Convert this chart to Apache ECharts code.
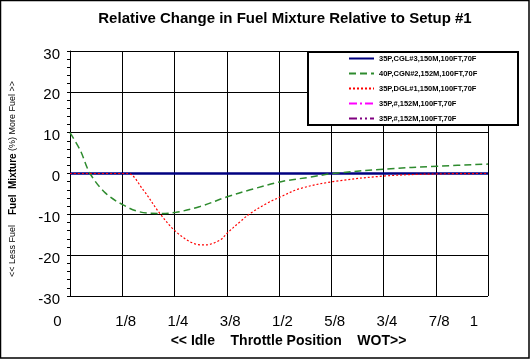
<!DOCTYPE html>
<html>
<head>
<meta charset="utf-8">
<script src="https://cdn.jsdelivr.net/npm/echarts@6/dist/echarts.min.js"></script>
<style>html,body{margin:0;padding:0;background:#fff}#c{width:530px;height:359px}</style>
</head>
<body>
<div id="c"></div>
<script>
// ---- data ----
var xTickLabels = ['0','1/8','1/4','3/8','1/2','5/8','3/4','7/8','1'];
var yTicks = [-30,-20,-10,0,10,20,30];
var seriesNames = ['35P,CGL#3,150M,100FT,70F','40P,CGN#2,152M,100FT,70F','35P,DGL#1,150M,100FT,70F','35P,#,152M,100FT,70F','35P,#,152M,100FT,70F '];
var cgl3X = [0, 1];
var cgl3Y = [0, 0];
var cgn2X = [0, 0.024, 0.048, 0.085, 0.127, 0.167, 0.215, 0.254, 0.311, 0.376, 0.431, 0.505, 0.574, 0.629, 0.756, 0.880, 1.0];
var cgn2Y = [10, 5.8, 0, -4.8, -7.7, -9.4, -9.8, -9.5, -8.1, -5.7, -4.0, -2.0, -0.9, 0, 1.1, 1.8, 2.3];
var dgl1X = [0, 0.125, 0.139, 0.175, 0.215, 0.253, 0.295, 0.323, 0.359, 0.376, 0.407, 0.431, 0.471, 0.504, 0.55, 0.629, 0.754, 0.878, 1.0];
var dgl1Y = [0, 0, 0, -4.0, -9.8, -14.2, -17.1, -17.5, -16.3, -14.6, -11.8, -9.8, -7.3, -5.7, -3.7, -2.0, -0.6, -0.1, 0];
var s4X = [0, 1];
var s4Y = [0, 0];
var s5X = [0, 1];
var s5Y = [0, 0];

function pts(xs, ys){ return xs.map(function(x,i){ return [x, ys[i]]; }); }

var FONT = 'Arial, "Liberation Sans", sans-serif';
var chart = echarts.init(document.getElementById('c'), null, {renderer:'canvas'});
chart.setOption({
  backgroundColor: '#ffffff',
  animation: false,
  title: {
    text: 'Relative Change in Fuel Mixture Relative to Setup #1',
    left: 280, top: 6, textAlign: 'center',
    textStyle: {fontFamily: FONT, fontSize: 15, fontWeight: 'bold', color: '#000'}
  },
  graphic: [
    {type:'rect', z: 0, shape:{x:0.5,y:0.5,width:528.5,height:357.5}, style:{fill:null, stroke:'#000', lineWidth:1.5}, silent:true},
    {type:'rect', z: 100, shape:{x:308,y:52,width:210,height:73}, style:{fill:'#fff', stroke:'#000', lineWidth:2}, silent:true}
  ],
  legend: {
    z: 110,
    orient: 'vertical',
    left: 348, top: 54.5,
    padding: 0,
    itemWidth: 25, itemHeight: 9, itemGap: 7,
    data: seriesNames,
    itemStyle: {opacity: 0},
    textStyle: {fontFamily: FONT, fontSize: 7.5, fontWeight: 'bold', color: '#000'}
  },
  grid: {left: 70, right: 42, top: 51, bottom: 63, containLabel: false},
  xAxis: {
    type: 'value', min: 0, max: 1, interval: 0.125,
    name: '<< Idle    Throttle Position    WOT>>',
    nameLocation: 'middle', nameGap: 35,
    nameTextStyle: {fontFamily: FONT, fontSize: 14, fontWeight: 'bold', color: '#000', padding: [0,0,0,19]},
    axisLine: {lineStyle: {color: '#000', width: 1}},
    axisTick: {show: false},
    splitLine: {show: true, lineStyle: {color: '#000', width: 1}},
    axisLabel: {
      margin: 18,
      formatter: function(v){
        var i = Math.round(v*8);
        var t = xTickLabels[i];
        if (i === 0) return '{a|' + t + '}';
        if (i === 8) return '{c|' + t + '}';
        return '{b|' + t + '}';
      },
      rich: {
        a: {fontFamily: FONT, fontSize: 15, color: '#000', padding: [0,25,0,0]},
        b: {fontFamily: FONT, fontSize: 15, color: '#000', padding: [0,0,0,7]},
        c: {fontFamily: FONT, fontSize: 15, color: '#000', padding: [0,28,0,0]}
      }
    }
  },
  yAxis: {
    type: 'value', min: -30, max: 30, interval: 10,
    name: '{a|<< Less Fuel    }{b|Fuel  Mixture}{a| (%) More Fuel >>}',
    nameLocation: 'middle', nameRotate: 90, nameGap: 52,
    nameTextStyle: {padding: [0,11,0,0], rich: {
      a: {fontFamily: FONT, fontSize: 9, color: '#000'},
      b: {fontFamily: FONT, fontSize: 10, fontWeight: 'bold', color: '#000'}
    }},
    axisLine: {show: true, lineStyle: {color: '#000', width: 1}},
    axisTick: {show: true, length: 3, lineStyle: {color: '#000'}},
    minorTick: {show: true, splitNumber: 5, length: 3, lineStyle: {color: '#000'}},
    splitLine: {show: true, lineStyle: {color: '#000', width: 1}},
    axisLabel: {margin: 10,
      formatter: function(v){ return yTicks.indexOf(v) >= 0 ? '{v|' + v + '}' : ''; },
      rich: {v: {fontFamily: FONT, fontSize: 15, color: '#000', padding: [7,0,0,0]}}
    }
  },
  series: [
    {name: seriesNames[0], type: 'line', z: 3, data: pts(cgl3X, cgl3Y), symbol: 'none', showSymbol: false,
      lineStyle: {color: '#000080', width: 2.5, type: 'solid'}, itemStyle: {color: '#000080'}},
    {name: seriesNames[1], type: 'line', z: 4, data: pts(cgn2X, cgn2Y), symbol: 'none', showSymbol: false, smooth: 0.35,
      lineStyle: {color: '#2E8B2E', width: 1.5, type: [7,4]}, itemStyle: {color: '#2E8B2E'}},
    {name: seriesNames[2], type: 'line', z: 5, data: pts(dgl1X, dgl1Y), symbol: 'none', showSymbol: false, smooth: 0.35,
      lineStyle: {color: '#FF0000', width: 1.2, type: [2,2]}, itemStyle: {color: '#FF0000'}},
    {name: seriesNames[3], type: 'line', z: 2, data: pts(s4X, s4Y), symbol: 'none', showSymbol: false,
      lineStyle: {color: '#FF00FF', width: 1.2, type: [8,3,2,3]}, itemStyle: {color: '#FF00FF'}},
    {name: seriesNames[4], type: 'line', z: 2, data: pts(s5X, s5Y), symbol: 'none', showSymbol: false,
      lineStyle: {color: '#800080', width: 1.2, type: [8,3,2,3,2,3]}, itemStyle: {color: '#800080'}}
  ]
});
</script>
</body>
</html>
